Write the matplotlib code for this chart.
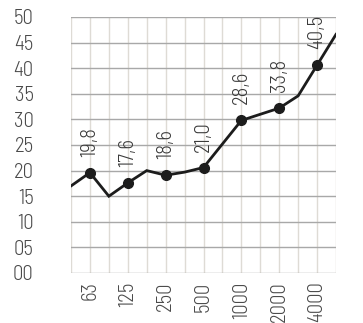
import matplotlib
matplotlib.use("Agg")
import matplotlib.pyplot as plt
from matplotlib import font_manager

# Data
freq_labels = ["63", "125", "250", "500", "1000", "2000", "4000"]
freq_label_idx = [1, 3, 5, 7, 9, 11, 13]
x_idx = list(range(15))
values = [17.0, 19.6, 15.0, 17.6, 20.0, 19.1, 19.7, 20.6, 25.2, 29.8, 31.0, 32.2, 34.6, 40.6, 46.6]
marker_idx = [1, 3, 5, 7, 9, 11, 13]
marker_texts = ["19,8", "17,6", "18,6", "21,0", "28,6", "33,8", "40,5"]
y_ticks = [0, 5, 10, 15, 20, 25, 30, 35, 40, 45, 50]
y_tick_labels = ["00", "05", "10", "15", "20", "25", "30", "35", "40", "45", "50"]

names = {f.name for f in font_manager.fontManager.ttflist}
fam = "DejaVu Sans"
for cand in ["Barlow Semi Condensed", "Roboto Condensed", "Barlow Condensed", "PT Sans Narrow"]:
    if cand in names:
        fam = cand
        break
plt.rcParams["font.family"] = [fam, "DejaVu Sans"]
FW = 300
FS = 15

fig = plt.figure(figsize=(3.63, 3.23), dpi=100)
ax = fig.add_axes([71/363, 50/323, 265/363, 256/323])

ax.set_xlim(0, 14)
ax.set_ylim(0, 50)
for s in ax.spines.values():
    s.set_visible(False)

# grid
for xi in x_idx:
    ax.axvline(xi, color="#dedbd5", lw=1.0, zorder=1)
for yv in y_ticks:
    ax.axhline(yv, color="#a8a8a8", lw=1.0, zorder=1)

ax.plot(x_idx, values, color="#1c1c1c", lw=2.0, zorder=3, solid_joinstyle="miter")
mx = marker_idx
my = [values[i] for i in marker_idx]
ax.plot(mx, my, "o", color="#1c1c1c", ms=7, zorder=4)
for xi, yi, t in zip(mx, my, marker_texts):
    ax.annotate(t, (xi, yi), xytext=(0, 11.5), textcoords="offset points",
                rotation=90, ha="center", va="bottom", fontsize=FS, color="#3a3a3a",
                fontweight=FW, zorder=5, annotation_clip=False)

ax.set_xticks(freq_label_idx)
ax.set_xticklabels(freq_labels, rotation=90, fontsize=FS, color="#4a4a4a", fontweight=FW)
ax.set_yticks(y_ticks)
ax.set_yticklabels(y_tick_labels, fontsize=FS, color="#4a4a4a", fontweight=FW)
ax.tick_params(axis="both", length=0)
ax.tick_params(axis="y", pad=27)
ax.tick_params(axis="x", pad=6)

fig.savefig("out.png", dpi=100)
